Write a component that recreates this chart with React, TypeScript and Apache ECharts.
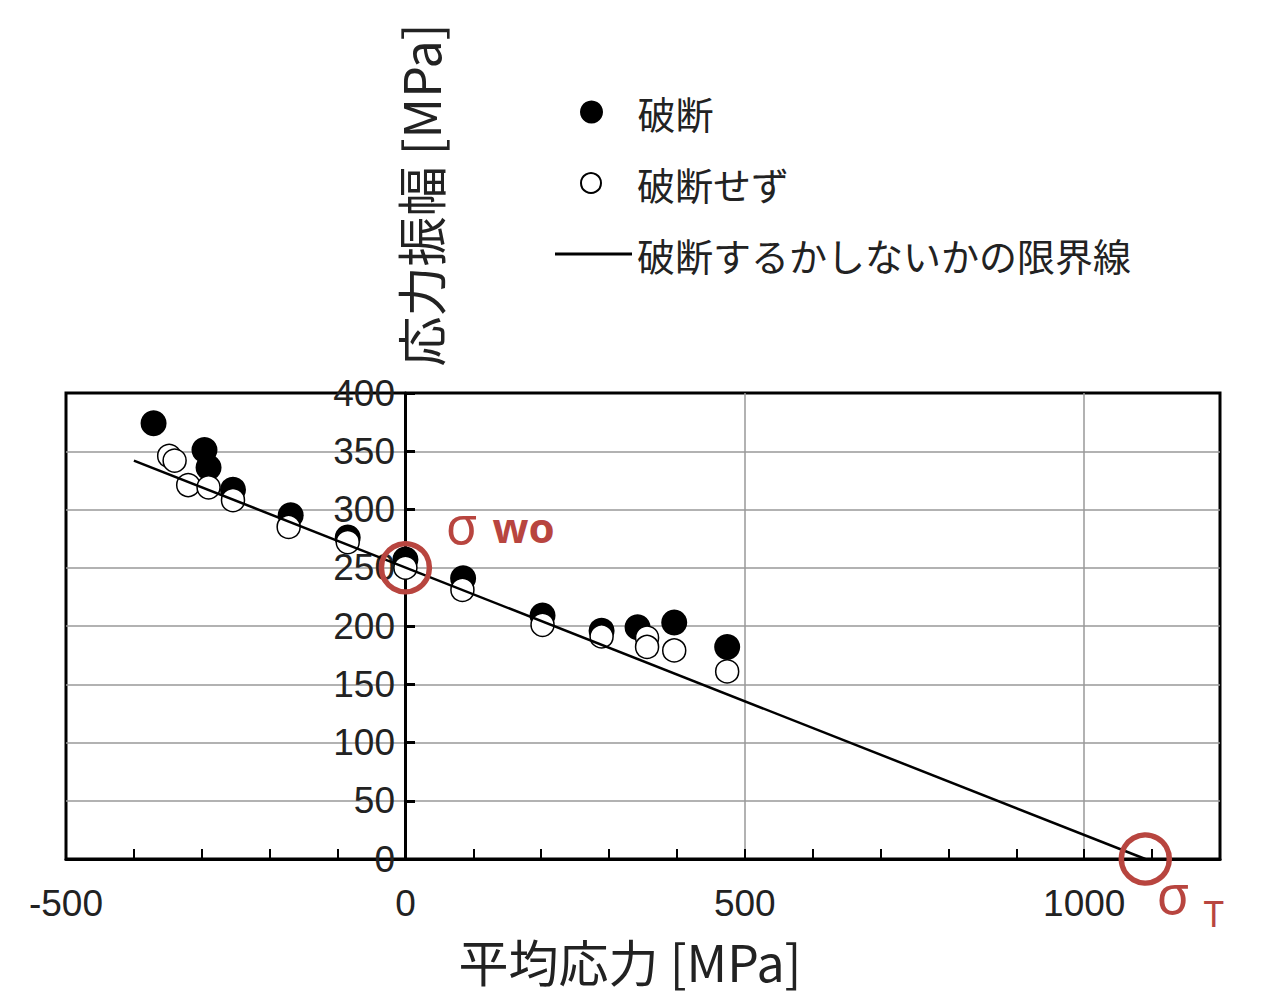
import React, { useEffect, useRef } from "react";
import * as echarts from "echarts";

const fracturedX = [-371, -296, -290, -254, -169, -85, 0, 85, 202, 289, 342, 396, 474];
const fracturedY = [374, 351, 336, 317, 295, 276, 257, 241, 209, 196, 199, 203, 182];
const survivedX = [-348, -340, -320, -290, -254, -172, -85, 0, 84, 202, 289, 356, 356, 396, 474];
const survivedY = [346, 342, 321, 319, 308, 285, 272, 250, 231, 201, 191, 190, 182, 179, 161];
const limitX = [-400, 1090];
const limitY = [342, 0];
const sigmaWoPoint = [0, 250];
const sigmaTPoint = [1090, 0];

const seriesNames = ["破断", "破断せず", "破断するかしないかの限界線"];
const xTitle = "平均応力 [MPa]";
const yTitle = "応力振幅 [MPa]";

const RED = "#b8453f";
const NUM_FONT = "'Liberation Sans Narrow', 'Liberation Sans', 'Noto Sans', sans-serif";
const JP_FONT = "'Noto Sans CJK JP', 'Noto Sans', sans-serif";
const LAT_FONT = "'Noto Sans', sans-serif";

export default function App() {
  const ref = useRef<HTMLDivElement>(null);
  useEffect(() => {
    if (!ref.current) return;
    const chart = echarts.init(ref.current, undefined, { renderer: "svg" });
    const zip = (xs: number[], ys: number[]) => xs.map((x, i) => [x, ys[i]]);
    const legendBase = {
      orient: "vertical",
      textStyle: { fontSize: 38, color: "#222", fontFamily: JP_FONT },
    };
    const splitStyle = { color: "#999", width: 1.5 };
    chart.setOption({
      animation: false,
      backgroundColor: "#fff",
      grid: {
        left: 66,
        right: 60,
        top: 393,
        bottom: 145,
        containLabel: false,
        outerBoundsMode: "none",
        show: true,
        borderColor: "#000",
        borderWidth: 3,
        backgroundColor: "transparent",
      },
      legend: [
        { ...legendBase, left: 575, top: 88, itemWidth: 82, itemHeight: 23, data: [seriesNames[0]] },
        { ...legendBase, left: 575, top: 159, itemWidth: 82, itemHeight: 20, data: [seriesNames[1]] },
        {
          ...legendBase,
          left: 550,
          top: 230,
          itemWidth: 77,
          itemHeight: 3,
          data: [{ name: seriesNames[2], icon: "rect" }],
        },
      ],
      xAxis: [
        {
          type: "value",
          position: "bottom",
          min: -500,
          max: 1200,
          interval: 500,
          axisLine: { show: true, onZero: false, lineStyle: { color: "#000", width: 3 } },
          axisTick: { show: false },
          axisLabel: {
            showMaxLabel: false,
            fontSize: 37,
            color: "#222",
            fontFamily: NUM_FONT,
            margin: 26,
            formatter: (v: number) => String(v),
          },
          splitLine: { show: true, showMinLine: false, showMaxLine: false, lineStyle: splitStyle },
        },
        {
          type: "value",
          position: "bottom",
          min: -500,
          max: 1200,
          interval: 100,
          axisLine: { show: false, onZero: false },
          axisTick: { show: true, inside: true, length: 10, lineStyle: { color: "#000", width: 2 } },
          axisLabel: { show: false },
          splitLine: { show: false },
        },
      ],
      yAxis: {
        type: "value",
        position: "left",
        offset: -339,
        min: 0,
        max: 400,
        interval: 50,
        axisLine: { show: true, onZero: false, lineStyle: { color: "#000", width: 3 } },
        axisTick: { show: true, inside: true, length: 10, lineStyle: { color: "#000", width: 3 } },
        axisLabel: {
          fontSize: 37,
          color: "#222",
          fontFamily: NUM_FONT,
          margin: 10,
          formatter: (v: number) => String(v),
        },
        splitLine: { show: true, showMinLine: false, showMaxLine: false, lineStyle: splitStyle },
      },
      graphic: [
        {
          type: "text",
          x: 419,
          y: 195,
          rotation: Math.PI / 2,
          style: {
            text: yTitle,
            fontSize: 50,
            fontFamily: JP_FONT,
            fill: "#222",
            textAlign: "center",
            textVerticalAlign: "middle",
          },
        },
        {
          type: "text",
          x: 630,
          y: 960,
          style: {
            text: xTitle,
            fontSize: 50,
            fontFamily: JP_FONT,
            fill: "#222",
            textAlign: "center",
            textVerticalAlign: "middle",
          },
        },
      ],
      series: [
        {
          name: seriesNames[0],
          type: "scatter",
          symbol: "circle",
          symbolSize: 26,
          itemStyle: { color: "#000", opacity: 1 },
          data: zip(fracturedX, fracturedY),
          z: 2,
        },
        {
          name: seriesNames[1],
          type: "scatter",
          symbol: "circle",
          symbolSize: 23,
          itemStyle: { color: "#fff", borderColor: "#000", borderWidth: 1.5, opacity: 1 },
          data: zip(survivedX, survivedY),
          z: 3,
        },
        {
          name: seriesNames[2],
          type: "line",
          symbol: "none",
          lineStyle: { color: "#000", width: 2.5 },
          itemStyle: { color: "#000" },
          data: zip(limitX, limitY),
          z: 4,
          markPoint: {
            symbol: "circle",
            symbolSize: 48,
            silent: true,
            itemStyle: { color: "rgba(0,0,0,0)", borderColor: RED, borderWidth: 5.5 },
            data: [
              {
                coord: sigmaWoPoint,
                label: {
                  show: true,
                  position: [67, 8],
                  align: "left",
                  verticalAlign: "bottom",
                  formatter: "{s|σ}{w|wo}",
                  rich: {
                    s: {
                      fontSize: 52,
                      color: RED,
                      fontFamily: LAT_FONT,
                      verticalAlign: "bottom",
                      padding: [0, 15, 0, 0],
                    },
                    w: {
                      fontSize: 42,
                      color: RED,
                      fontWeight: "bold",
                      fontFamily: LAT_FONT,
                      verticalAlign: "bottom",
                      padding: [0, 0, 2, 0],
                    },
                  },
                },
              },
              {
                coord: sigmaTPoint,
                label: {
                  show: true,
                  position: [38, 34],
                  align: "left",
                  verticalAlign: "top",
                  formatter: "{s|σ}{t|T}",
                  rich: {
                    s: {
                      fontSize: 54,
                      color: RED,
                      fontFamily: LAT_FONT,
                      verticalAlign: "bottom",
                      padding: [0, 14, 11, 0],
                    },
                    t: { fontSize: 36, color: RED, fontFamily: LAT_FONT, verticalAlign: "bottom" },
                  },
                },
              },
            ],
          },
        },
      ],
    });
    return () => chart.dispose();
  }, []);
  return (
    <div
      ref={ref}
      style={{ position: "absolute", left: 0, top: 0, width: 1280, height: 1004 }}
    />
  );
}
